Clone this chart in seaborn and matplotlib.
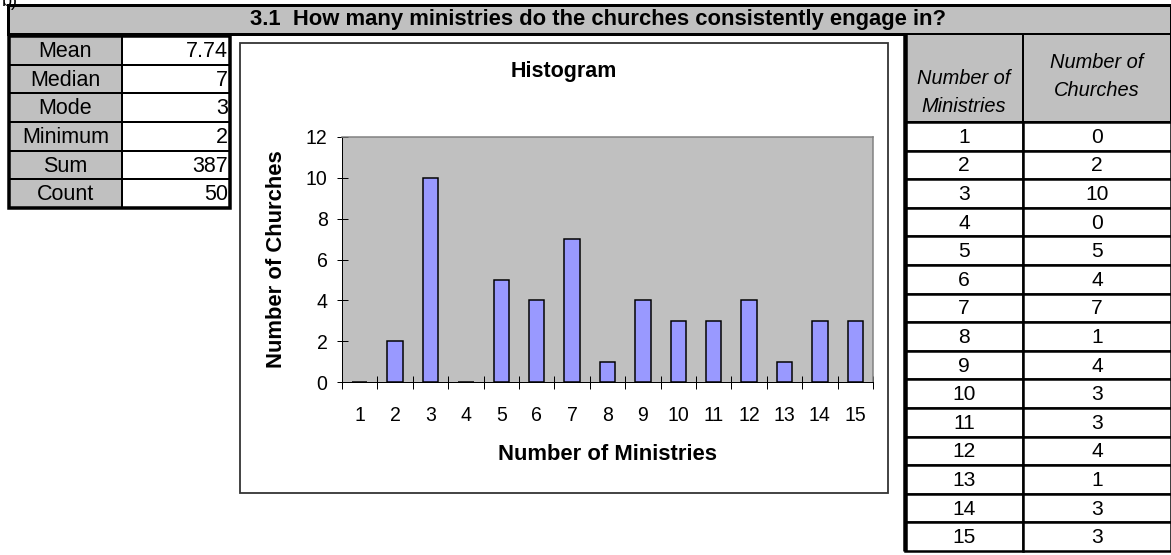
import numpy as np
import pandas as pd
import seaborn as sns
import matplotlib.pyplot as plt
from matplotlib.patches import Rectangle

# chart data
ministries = list(range(1, 16))
churches = [0, 2, 10, 0, 5, 4, 7, 1, 4, 3, 3, 4, 1, 3, 3]
stat_names = ['Mean', 'Median', 'Mode', 'Minimum', 'Sum', 'Count']
stat_values = ['7.74', '7', '3', '2', '387', '50']
title = '3.1  How many ministries do the churches consistently engage in?'

sns.set_theme(style='white')
plt.rcParams['font.family'] = ['Liberation Sans', 'DejaVu Sans']
plt.rcParams.update({'text.color': 'black', 'axes.labelcolor': 'black',
                     'xtick.color': 'black', 'ytick.color': 'black'})

W, H = 1171, 555
fig = plt.figure(figsize=(W / 72, H / 72), dpi=72)

# background axes in pixel coords for the sheet cells
bg = fig.add_axes([0, 0, 1, 1], zorder=0)
bg.set_xlim(0, W)
bg.set_ylim(H, 0)
bg.axis('off')

gray = '#c0c0c0'

def cell(x0, y0, x1, y1, fc, lw=2.0):
    bg.add_patch(Rectangle((x0, y0), x1 - x0, y1 - y0, fc=fc, ec='black', lw=lw))

# cut off label at top left (only its bottom shows, as in the sheet)
bg.text(2, 1, 'b)', fontsize=18, ha='left', va='center')

# title bar
cell(8, 5, 1171, 34, gray, lw=3)
bg.text(598, 20, title, fontsize=22, fontweight='bold', ha='center', va='center')

# stats table
row_h = 28.67
top = 36
for i, (name, val) in enumerate(zip(stat_names, stat_values)):
    y0 = top + i * row_h
    cell(9, y0, 122, y0 + row_h, gray)
    cell(122, y0, 230, y0 + row_h, 'white')
    bg.text(65.5, y0 + row_h / 2 + 1, name, fontsize=21.5, ha='center', va='center')
    bg.text(228, y0 + row_h / 2 + 1, val, fontsize=21.5, ha='right', va='center')
bg.add_patch(Rectangle((9, top), 221, row_h * len(stat_names), fc='none', ec='black', lw=3.5))

# frequency table on the right
cx1, cx2 = 964, 1097
cell(905, 34, 1023, 122, gray)
cell(1023, 34, 1171, 122, gray)
bg.text(cx1, 78, 'Number of', fontsize=20, style='italic', ha='center', va='center')
bg.text(cx1, 106, 'Ministries', fontsize=20, style='italic', ha='center', va='center')
bg.text(cx2, 63, 'Number of', fontsize=20, style='italic', ha='center', va='center')
bg.text(cx2, 91, 'Churches', fontsize=20, style='italic', ha='center', va='center')
rh = 28.6
for i, (m, c) in enumerate(zip(ministries, churches)):
    y0 = 122 + i * rh
    cell(905, y0, 1023, y0 + rh, 'white', lw=2.5)
    cell(1023, y0, 1171, y0 + rh, 'white', lw=2.5)
    bg.text(cx1, y0 + rh / 2 + 1, str(m), fontsize=21, ha='center', va='center')
    bg.text(cx2, y0 + rh / 2 + 1, str(c), fontsize=21, ha='center', va='center')
bg.plot([905, 905], [34, 122 + rh * 15], color='black', lw=4.5, solid_capstyle='butt')

# chart box
bg.add_patch(Rectangle((240, 43), 648, 450, fc='white', ec='#333333', lw=1.8))
bg.text(564, 71, 'Histogram', fontsize=21.5, fontweight='bold', ha='center', va='center')

# histogram axes
px0, px1, py0, py1 = 342, 873, 137, 382
ax = fig.add_axes([px0 / W, 1 - py1 / H, (px1 - px0) / W, (py1 - py0) / H], zorder=1)
df = pd.DataFrame({'Number of Ministries': ministries, 'Number of Churches': churches})
sns.barplot(data=df, x='Number of Ministries', y='Number of Churches', color='#9999ff',
            saturation=1, edgecolor='black', linewidth=1.5, width=0.43, ax=ax)
ax.set_facecolor(gray)
ax.set_xlim(-0.5, len(ministries) - 0.5)
ax.set_ylim(0, 12)
ax.set_yticks(np.arange(0, 13, 2))
ax.set_xticks(np.arange(len(ministries)))
ax.set_xticklabels([str(m) for m in ministries])
ax.set_xticks(np.arange(len(ministries) + 1) - 0.5, minor=True)
ax.tick_params(axis='x', which='major', length=0, labelsize=19.5, pad=24, colors='black')
ax.tick_params(axis='x', which='minor', bottom=True, direction='inout', length=13, width=1, color='black')
ax.tick_params(axis='y', left=True, direction='inout', length=11, width=1, labelsize=19.5, pad=9, colors='black')
for s in ['left', 'bottom']:
    ax.spines[s].set_color('black')
    ax.spines[s].set_linewidth(1)
for s in ['top', 'right']:
    ax.spines[s].set_color('#808080')
    ax.spines[s].set_linewidth(1.5)
ax.set_xlabel('Number of Ministries', fontsize=22, fontweight='bold', va='center')
ax.set_ylabel('Number of Churches', fontsize=22, fontweight='bold', va='center')
ax.xaxis.set_label_coords((608 - px0) / (px1 - px0), (py1 - 455) / (py1 - py0))
ax.yaxis.set_label_coords((277 - px0) / (px1 - px0), 0.5)

fig.savefig('out.png', dpi=72)
